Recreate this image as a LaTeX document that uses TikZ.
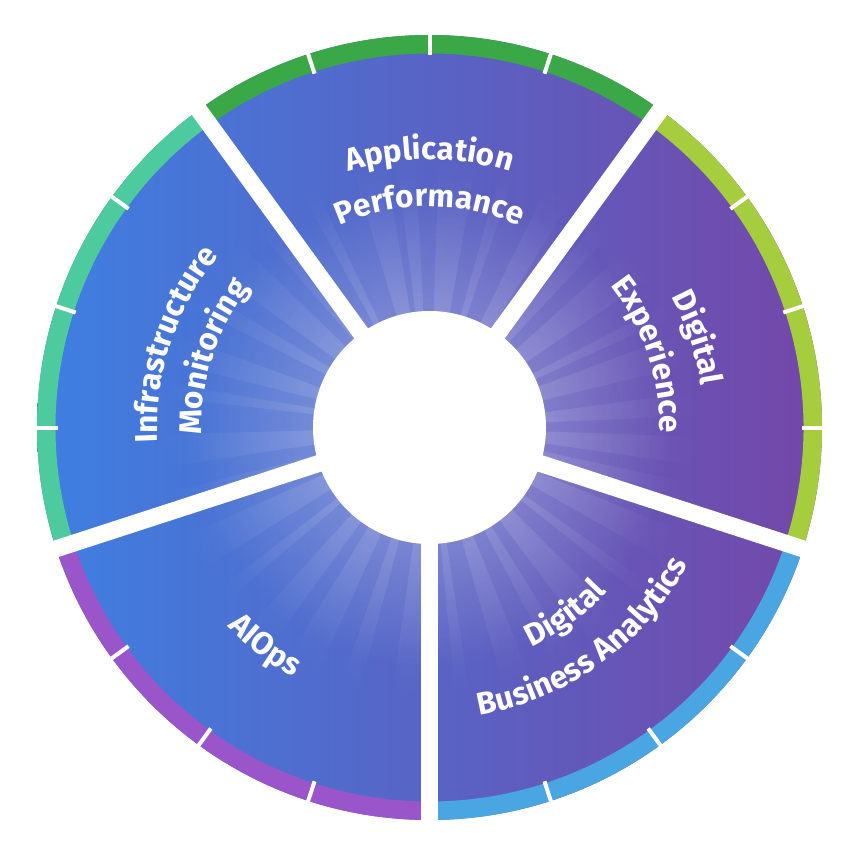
\documentclass[tikz,border=0pt]{standalone}
\usepackage{fontspec}
\setmainfont{Fira Sans}
\usetikzlibrary{decorations.text,fadings,calc}
\definecolor{fillL}{HTML}{3D80E2}
\definecolor{fillR}{HTML}{7447A8}
\definecolor{rimA}{HTML}{3AA847}
\definecolor{rimD}{HTML}{A6CD3D}
\definecolor{rimB}{HTML}{4AA6E3}
\definecolor{rimP}{HTML}{9A55CB}
\definecolor{rimT}{HTML}{4DCB9E}
\tikzfading[name=glowfade, inner color=transparent!0, outer color=transparent!100]
\newcommand\lblfont{\color{white}\bfseries\fontsize{31.5}{32}\selectfont}
% clockwise text, tops outward: mid angle, baseline radius, text
\newcommand\cwtext[3]{%
  \path[decorate, decoration={text along path, text align=center, text={|\lblfont|#3}}]
    ($(c)+(#1+60:#2)$) arc[start angle=#1+60, end angle=#1-60, radius=#2];}
% counter-clockwise text, tops inward
\newcommand\ccwtext[3]{%
  \path[decorate, decoration={text along path, text align=center, text={|\lblfont|#3}}]
    ($(c)+(#1-60:#2)$) arc[start angle=#1-60, end angle=#1+60, radius=#2];}
\tikzset{
  rimseg/.style={fill=#1},
  tick/.style={draw=white, line width=4pt},
  gapbar/.style={draw=white, line width=17pt},
}
\begin{document}
\begin{tikzpicture}[x=1pt,y=1pt]
\useasboundingbox (0,0) rectangle (850,847);
\coordinate (c) at (429.5,419.5);
% main disc with gradient
\shade[left color=fillL, right color=fillR] (c) circle (392.5);
% glow and rays
\fill[white, path fading=glowfade, fill opacity=.40] (c) circle (240);
\fill[white, path fading=glowfade, fill opacity=.20]
  foreach \a/\w in {5/2.5, 17/3.5, 26/1.5, 38/4, 49/2, 61/3, 73/1.5, 84/4, 95/2, 103/3.5,
    117/1.5, 128/3, 140/4, 151/2, 163/3, 172/1.5, 185/3.5, 196/2, 208/4, 219/1.5, 231/3,
    242/3.5, 253/2, 266/4, 277/1.5, 289/3, 300/2, 311/4, 323/1.5, 334/3.5, 346/2, 355/3}
  { (c) -- ($(c)+(\a-\w:270)$) -- ($(c)+(\a+\w:270)$) -- cycle };
% rim segments
\foreach \s/\col in {54/rimA, 126/rimT, 198/rimP, 270/rimB, 342/rimD}{
  \fill[rimseg=\col] ($(c)+(\s:374)$) arc[start angle=\s, end angle=\s+72, radius=374]
    -- ($(c)+(\s+72:392.5)$) arc[start angle=\s+72, end angle=\s, radius=392.5] -- cycle;
  \foreach \k in {18,36,54}{
    \draw[tick] ($(c)+(\s+\k:372)$) -- ($(c)+(\s+\k:395)$);
  }
}
% gaps between segments
\foreach \g in {54,126,198,270,342}{
  \draw[gapbar] (c) -- ($(c)+(\g:400)$);
}
% centre hole
\fill[white] (c) circle (116.5);
% labels
\cwtext{90}{268}{Application}
\cwtext{90}{221}{Performance}
\cwtext{162}{272}{Infrastructure}
\cwtext{162}{228}{Monitoring}
\cwtext{18.5}{275}{Digital}
\cwtext{18.5}{230}{Experience}
\ccwtext{233}{284}{AIOps}
\ccwtext{306}{242}{Digital}
\ccwtext{306}{292}{Business Analytics}
\end{tikzpicture}
\end{document}
